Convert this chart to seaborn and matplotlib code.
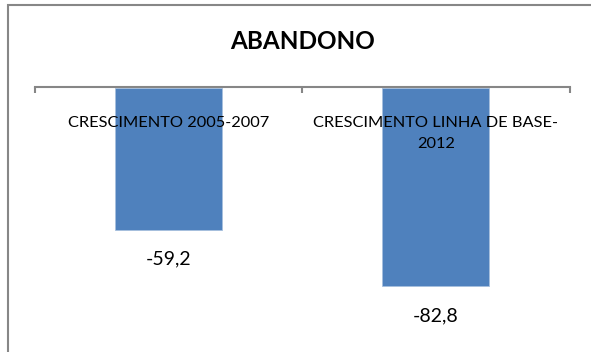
import matplotlib
matplotlib.use("Agg")
import matplotlib.pyplot as plt
import matplotlib.patches as mpatches
import seaborn as sns
import pandas as pd

categories = ["CRESCIMENTO 2005-2007", "CRESCIMENTO LINHA DE BASE-\n2012"]
values = [-59.2, -82.8]
title = "ABANDONO"

sns.set_theme(style="white")
plt.rcParams["font.family"] = ["Lato", "DejaVu Sans"]

W, H, DPI = 591, 352, 100
fig = plt.figure(figsize=(W / DPI, H / DPI), dpi=DPI)
fig.patch.set_facecolor("white")

# chart frame (runs off the right and bottom edges)
frame = mpatches.Rectangle((8 / W, -0.1), 1.2, 1 - 5 / H + 0.1,
                           transform=fig.transFigure, fill=False,
                           edgecolor="#878787", linewidth=1.5, clip_on=False)
fig.patches.append(frame)

left, right = 35 / W, 569.5 / W
top = 1 - 87.5 / H
height = 240 / H
ax = fig.add_axes([left, top - height, right - left, height])

df = pd.DataFrame({"cat": categories, "val": values})
sns.barplot(data=df, x="cat", y="val", ax=ax, color="#4F81BD", width=0.4,
            saturation=1, edgecolor="#A7C0DE", linewidth=0.6)

ax.set_xlim(-0.5, 1.5)
ax.set_ylim(-100, 0)
ax.set_xlabel("")
ax.set_ylabel("")
ax.set_yticks([])
ax.set_xticks([])
for s in ("left", "right", "bottom"):
    ax.spines[s].set_visible(False)
ax.spines["top"].set_color("#868686")
ax.spines["top"].set_linewidth(1.5)
ax.set_facecolor("none")

# category divider ticks hanging below the zero line
ax.set_xticks([-0.5, 0.5, 1.5], minor=True)
ax.xaxis.set_ticks_position("top")
ax.tick_params(axis="x", which="minor", direction="in", length=4,
               width=1.5, color="#868686", top=True, labeltop=False)
ax.tick_params(axis="x", which="major", length=0, labeltop=False,
               labelbottom=False)

# category labels inside the plot, under the zero line
for i, cat in enumerate(categories):
    ax.annotate(cat, xy=(i, 0), xytext=(0, -20.5), textcoords="offset points",
                ha="center", va="top", fontsize=11.8, color="black",
                linespacing=1.68, zorder=5)

# value labels below each bar
for i, v in enumerate(values):
    ax.annotate(f"{v:.1f}".replace(".", ","), xy=(i, v), xytext=(0, -21),
                textcoords="offset points", ha="center", va="center",
                fontsize=14, color="black")

fig.text((left + right) / 2, 1 - 41.5 / H, title, ha="center", va="center",
         fontsize=17.5, fontweight="bold", color="black")

fig.savefig("out.png", dpi=DPI)
